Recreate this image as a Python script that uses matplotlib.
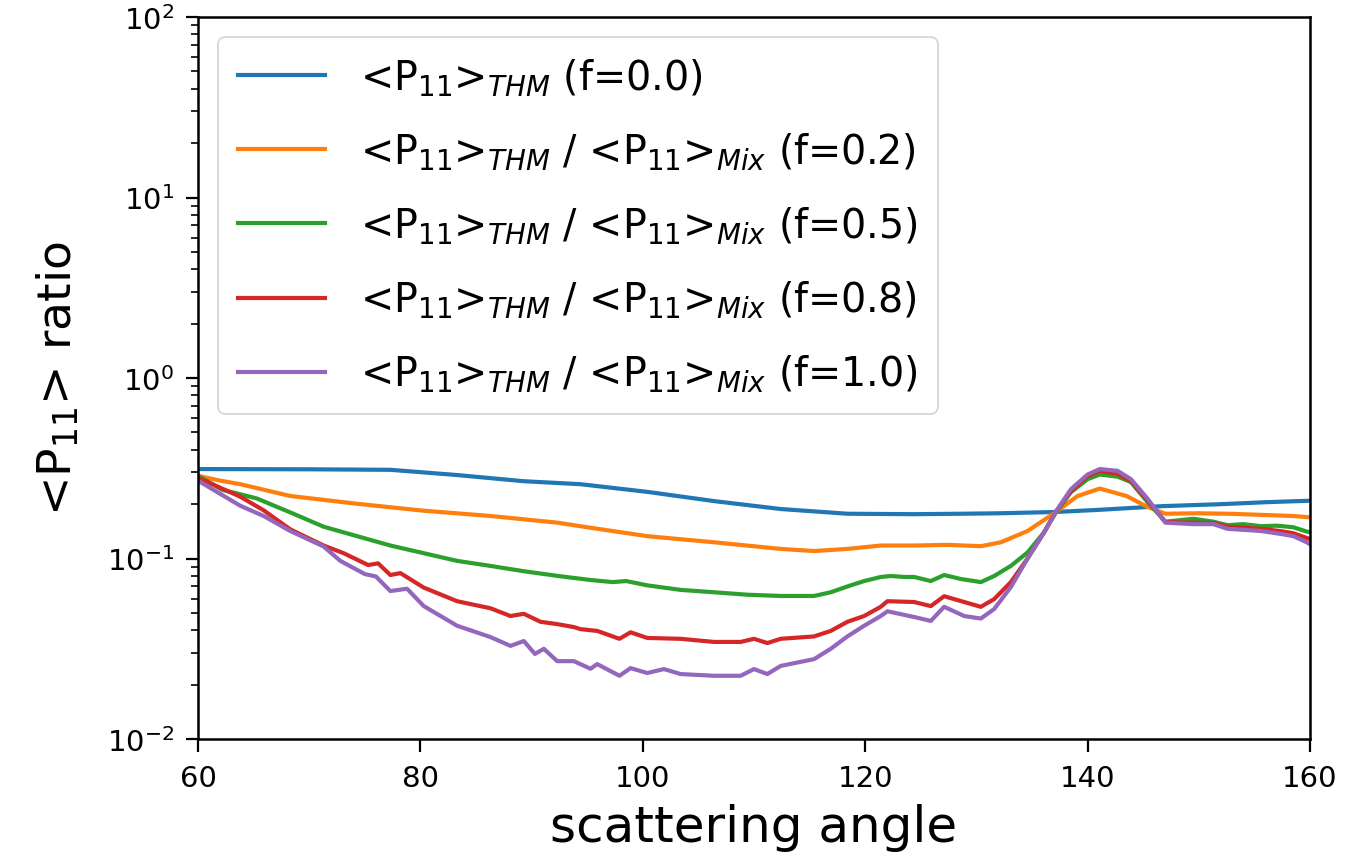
import matplotlib
matplotlib.use("Agg")
import matplotlib.pyplot as plt

# ---- data ----
ang_f00 = [60, 70, 77.3, 83.3, 89.3, 94.4, 100.4, 106.4, 112.4, 118.4, 124.4, 128.6, 132, 137.1, 141, 146.7, 152, 156, 160]
val_f00 = [0.313, 0.312, 0.31, 0.29, 0.268, 0.258, 0.234, 0.208, 0.188, 0.177, 0.176, 0.177, 0.178, 0.181, 0.186, 0.195, 0.200, 0.205, 0.209]

ang_f02 = [60, 62, 63.8, 68.3, 74.3, 80.3, 86.3, 92.3, 95.3, 100.4, 106.4, 112.4, 115.4, 118.4, 121.4, 124.4, 127.4, 130.4, 132.2, 134.6, 137.1, 139.1, 141.1, 143.5, 145.4, 147, 150, 152.6, 155, 158.5, 160]
val_f02 = [0.287, 0.27, 0.258, 0.222, 0.201, 0.184, 0.172, 0.158, 0.148, 0.133, 0.123, 0.113, 0.110, 0.113, 0.118, 0.118, 0.119, 0.117, 0.123, 0.142, 0.18, 0.222, 0.244, 0.222, 0.193, 0.177, 0.178, 0.177, 0.175, 0.172, 0.169]

ang_f05 = [60, 62.2, 63.8, 65.3, 68.3, 71.3, 74.3, 77.3, 80.3, 83.3, 86.3, 89.3, 92.4, 95.3, 97.3, 98.5, 100.4, 103.4, 106.4, 109.4, 112.4, 115.4, 116.9, 118.4, 119.9, 121.4, 122.3, 123.5, 124.4, 125.9, 127.1, 128.6, 130.4, 131.6, 133.1, 134.6, 136.1, 137.1, 138.5, 140.0, 141.1, 142.7, 143.9, 145.4, 147, 149.5, 151.3, 152.6, 154, 155.6, 157, 158.5, 159.7, 160]
val_f05 = [0.287, 0.24, 0.227, 0.215, 0.18, 0.15, 0.133, 0.118, 0.107, 0.097, 0.091, 0.085, 0.080, 0.076, 0.074, 0.075, 0.071, 0.067, 0.065, 0.063, 0.062, 0.062, 0.065, 0.070, 0.075, 0.079, 0.080, 0.079, 0.079, 0.075, 0.081, 0.077, 0.074, 0.080, 0.091, 0.108, 0.14, 0.178, 0.233, 0.275, 0.292, 0.284, 0.265, 0.205, 0.16, 0.166, 0.16, 0.153, 0.155, 0.151, 0.152, 0.149, 0.141, 0.14]

ang_f08 = [60, 63.8, 65.9, 68.3, 71.3, 73.1, 75.3, 76.2, 77.3, 78.2, 80.3, 83.3, 86.3, 88.1, 89.3, 90.8, 92.3, 93.8, 94.4, 95.9, 97.9, 98.9, 100.4, 103.4, 106.4, 108.8, 110, 111.2, 112.4, 115.4, 116.9, 118.4, 119.9, 121.4, 122, 124.4, 125.9, 127.1, 128.9, 130.4, 131.6, 133.1, 134.6, 136.1, 137.1, 138.5, 140, 141.1, 142.7, 143.9, 145.4, 147, 149.5, 151.3, 152.6, 155.6, 157.3, 158.5, 159.7, 160]
val_f08 = [0.28, 0.22, 0.185, 0.145, 0.118, 0.107, 0.092, 0.094, 0.081, 0.083, 0.069, 0.058, 0.053, 0.048, 0.0494, 0.0446, 0.0433, 0.0417, 0.0406, 0.0397, 0.0359, 0.039, 0.0363, 0.0359, 0.0345, 0.0345, 0.0359, 0.034, 0.0359, 0.037, 0.0397, 0.0446, 0.048, 0.054, 0.058, 0.0574, 0.0545, 0.0618, 0.0574, 0.054, 0.0596, 0.074, 0.10, 0.14, 0.18, 0.236, 0.286, 0.306, 0.295, 0.268, 0.21, 0.159, 0.158, 0.157, 0.150, 0.146, 0.142, 0.138, 0.13, 0.128]

ang_f10 = [60, 63.8, 65.9, 68.3, 71.3, 72.8, 75, 76, 77.3, 78.8, 80.3, 83.3, 86.3, 88.1, 89.3, 90.3, 91.1, 92.3, 93.8, 95.3, 95.9, 97.9, 98.9, 100.4, 101.9, 103.4, 106.4, 108.8, 110, 111.2, 112.4, 115.4, 116.9, 118.4, 119.9, 121.4, 122, 124.4, 125.9, 127.1, 128.9, 130.4, 131.6, 133.1, 134.6, 136.1, 137.1, 138.5, 140, 141.1, 142.7, 143.9, 145.4, 147, 149.5, 151.3, 152.6, 155.6, 157.3, 158.5, 159.7, 160]
val_f10 = [0.27, 0.196, 0.172, 0.142, 0.1165, 0.097, 0.082, 0.0795, 0.066, 0.068, 0.0545, 0.0424, 0.0367, 0.0328, 0.0349, 0.0296, 0.0316, 0.027, 0.027, 0.0245, 0.026, 0.0224, 0.0247, 0.0232, 0.0244, 0.0229, 0.0224, 0.0224, 0.0244, 0.0229, 0.0254, 0.0277, 0.0316, 0.037, 0.0424, 0.048, 0.051, 0.0474, 0.0451, 0.054, 0.048, 0.0465, 0.0525, 0.0695, 0.10, 0.14, 0.18, 0.242, 0.292, 0.313, 0.306, 0.275, 0.214, 0.158, 0.155, 0.155, 0.146, 0.142, 0.137, 0.133, 0.123, 0.12]

series_angles = [ang_f00, ang_f02, ang_f05, ang_f08, ang_f10]
series_values = [val_f00, val_f02, val_f05, val_f08, val_f10]
series_labels = [
    r'<P$_{11}$>$_{THM}$ (f=0.0)',
    r'<P$_{11}$>$_{THM}$ / <P$_{11}$>$_{Mix}$ (f=0.2)',
    r'<P$_{11}$>$_{THM}$ / <P$_{11}$>$_{Mix}$ (f=0.5)',
    r'<P$_{11}$>$_{THM}$ / <P$_{11}$>$_{Mix}$ (f=0.8)',
    r'<P$_{11}$>$_{THM}$ / <P$_{11}$>$_{Mix}$ (f=1.0)',
]
series_colors = ['#1f77b4', '#ff7f0e', '#2ca02c', '#d62728', '#9467bd']

# ---- figure ----
fig = plt.figure(figsize=(13.58, 8.62), dpi=100)
ax = fig.add_axes([198/1358, 122/862, (1310-198)/1358, (740-18)/862])

for a, v, lab, c in zip(series_angles, series_values, series_labels, series_colors):
    ax.plot(a, v, color=c, lw=3.0, label=lab)

ax.set_yscale('log')
ax.set_xlim(60, 160)
ax.set_ylim(1e-2, 1e2)
ax.tick_params(axis='x', which='major', labelsize=21, length=9, width=1.6, pad=9)
ax.tick_params(axis='y', which='major', labelsize=21, length=9, width=1.6, pad=8)
ax.tick_params(axis='both', which='minor', length=5, width=1.2)
for s in ax.spines.values():
    s.set_linewidth(1.8)

ax.set_xlabel('scattering angle', fontsize=36, labelpad=8)
ax.set_ylabel(r'<P$_{11}$> ratio', fontsize=34, labelpad=18)

leg = ax.legend(loc='upper left', fontsize=28.5, handlelength=2.2, borderpad=0.5,
                labelspacing=0.82, handletextpad=0.9, framealpha=0.8)
leg.get_frame().set_linewidth(1.3)

fig.savefig('out.png', dpi=100)
